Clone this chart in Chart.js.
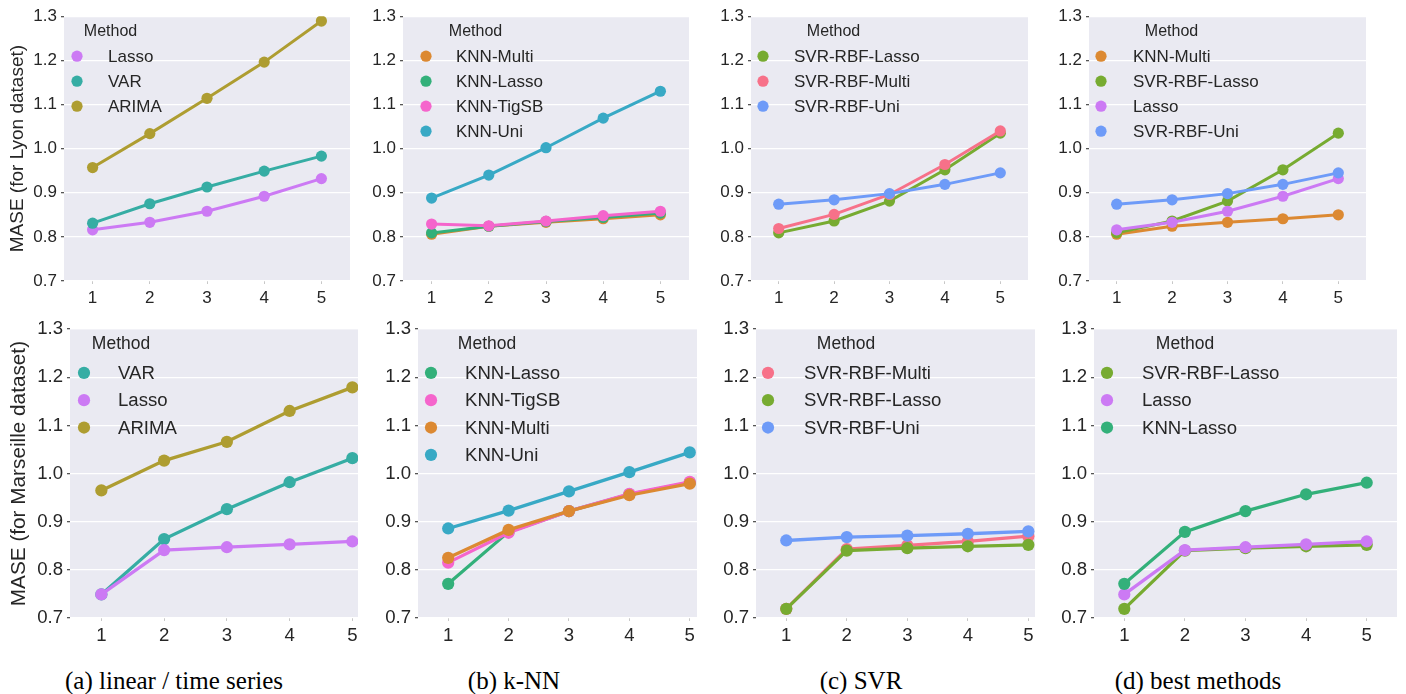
<!DOCTYPE html>
<html>
<head>
<meta charset="utf-8">
<script src="https://cdn.jsdelivr.net/npm/chart.js@4/dist/chart.umd.min.js"></script>
<style>
    body { margin: 0; background: #fff; width: 1406px; height: 694px; overflow: hidden; position: relative; }
    canvas { position: absolute; }
    .cap { position: absolute; top: 667px; width: 300px; margin-left: -150px; text-align: center;
           font-family: 'Liberation Serif', serif; font-size: 25px; line-height: 28px; color: #000; }
</style>
</head>
<body>
<div class="cap" style="left:174px">(a) linear / time series</div>
<div class="cap" style="left:514px">(b) k-NN</div>
<div class="cap" style="left:861px">(c) SVR</div>
<div class="cap" style="left:1198px">(d) best methods</div>
<script>
const steps = [1, 2, 3, 4, 5];
const yTicks = [0.7, 0.8, 0.9, 1.0, 1.1, 1.2, 1.3];

// Lyon (top row)
const lyonLasso    = [0.816, 0.833, 0.858, 0.892, 0.932];
const lyonVAR      = [0.831, 0.875, 0.913, 0.949, 0.983];
const lyonARIMA    = [0.957, 1.034, 1.114, 1.196, 1.289];
const lyonKnnMulti = [0.806, 0.824, 0.833, 0.841, 0.850];
const lyonKnnLasso = [0.809, 0.824, 0.835, 0.844, 0.854];
const lyonKnnTigSB = [0.829, 0.825, 0.836, 0.848, 0.858];
const lyonKnnUni   = [0.888, 0.940, 1.002, 1.069, 1.130];
const lyonSvrLasso = [0.809, 0.836, 0.881, 0.952, 1.035];
const lyonSvrMulti = [0.819, 0.851, 0.896, 0.964, 1.040];
const lyonSvrUni   = [0.874, 0.884, 0.898, 0.919, 0.945];

// Marseille (bottom row)
const marVAR      = [0.749, 0.864, 0.926, 0.982, 1.032];
const marLasso    = [0.749, 0.841, 0.847, 0.853, 0.859];
const marARIMA    = [0.965, 1.027, 1.066, 1.130, 1.179];
const marKnnLasso = [0.771, 0.879, 0.922, 0.957, 0.981];
const marKnnTigSB = [0.815, 0.877, 0.922, 0.958, 0.983];
const marKnnMulti = [0.825, 0.883, 0.922, 0.955, 0.979];
const marKnnUni   = [0.886, 0.923, 0.963, 1.003, 1.044];
const marSvrMulti = [0.719, 0.843, 0.851, 0.859, 0.870];
const marSvrLasso = [0.719, 0.840, 0.845, 0.849, 0.852];
const marSvrUni   = [0.861, 0.868, 0.871, 0.875, 0.880];

// husl palette, one colour per method
const colors = {
    'SVR-RBF-Multi': '#f77189', 'KNN-Multi': '#dc8932', 'ARIMA': '#ae9d31',
    'SVR-RBF-Lasso': '#77ab31', 'KNN-Lasso': '#33b07a', 'VAR': '#36ada4',
    'KNN-Uni': '#38a9c5', 'SVR-RBF-Uni': '#6e9bf8', 'Lasso': '#cc7af4', 'KNN-TigSB': '#f565cc'
};

const panels = [
    // top row
    { L: 64, R: 350, T: 14, B: 281, yw: 64, xmax: 5.5, s: 1, ytitle: 'MASE (for Lyon dataset)',
      lg: { mx: 13, tx: 44, tc: 46.5 },
      series: [['Lasso', lyonLasso], ['VAR', lyonVAR], ['ARIMA', lyonARIMA]] },
    { L: 403, R: 689, T: 14, B: 281, yw: 60, xmax: 5.5, s: 1,
      lg: { mx: 23, tx: 53, tc: 72.5 },
      series: [['KNN-Multi', lyonKnnMulti], ['KNN-Lasso', lyonKnnLasso], ['KNN-TigSB', lyonKnnTigSB], ['KNN-Uni', lyonKnnUni]] },
    { L: 751, R: 1028, T: 14, B: 281, yw: 60, xmax: 5.5, s: 1,
      lg: { mx: 12, tx: 43, tc: 82.5 },
      series: [['SVR-RBF-Lasso', lyonSvrLasso], ['SVR-RBF-Multi', lyonSvrMulti], ['SVR-RBF-Uni', lyonSvrUni]] },
    { L: 1089, R: 1366, T: 14, B: 281, yw: 60, xmax: 5.5, s: 1,
      lg: { mx: 12, tx: 44, tc: 82.5 },
      series: [['KNN-Multi', lyonKnnMulti], ['SVR-RBF-Lasso', lyonSvrLasso], ['Lasso', lyonLasso], ['SVR-RBF-Uni', lyonSvrUni]] },
    // bottom row
    { L: 70, R: 358, T: 326, B: 618, yw: 70, xmax: 5.09, s: 1.093, ytitle: 'MASE (for Marseille dataset)',
      lg: { mx: 14, tx: 48, tc: 51 },
      series: [['VAR', marVAR], ['Lasso', marLasso], ['ARIMA', marARIMA]] },
    { L: 418, R: 697, T: 326, B: 618, yw: 62, xmax: 5.12, s: 1.093,
      lg: { mx: 13, tx: 47, tc: 69 },
      series: [['KNN-Lasso', marKnnLasso], ['KNN-TigSB', marKnnTigSB], ['KNN-Multi', marKnnMulti], ['KNN-Uni', marKnnUni]] },
    { L: 756, R: 1035, T: 326, B: 618, yw: 62, xmax: 5.11, s: 1.093,
      lg: { mx: 12, tx: 48, tc: 90 },
      series: [['SVR-RBF-Multi', marSvrMulti], ['SVR-RBF-Lasso', marSvrLasso], ['SVR-RBF-Uni', marSvrUni]] },
    { L: 1094, R: 1397, T: 326, B: 618, yw: 62, xmax: 5.5, s: 1.093,
      lg: { mx: 13, tx: 48, tc: 91 },
      series: [['SVR-RBF-Lasso', marSvrLasso], ['Lasso', marLasso], ['KNN-Lasso', marKnnLasso]] }
];

const TXT = '#262626';
const FONT = "'Liberation Sans', Arial, sans-serif";
const PAD_TOP = 12, PAD_RIGHT = 9, XAXIS_H = 34;

// grey background of the plot area
const bgPlugin = {
    id: 'bg',
    beforeDraw(chart) {
        const a = chart.chartArea, ctx = chart.ctx;
        ctx.save();
        ctx.fillStyle = '#eaeaf2';
        ctx.fillRect(a.left, a.top, a.right - a.left, a.bottom - a.top);
        ctx.restore();
    }
};

// seaborn-like legend drawn inside the plot area
const legendPlugin = {
    id: 'innerLegend',
    afterDraw(chart, args, opts) {
        const a = chart.chartArea, ctx = chart.ctx, s = opts.s;
        ctx.save();
        ctx.fillStyle = TXT;
        ctx.textBaseline = 'middle';
        ctx.textAlign = 'center';
        ctx.font = (16 * s) + 'px ' + FONT;
        ctx.fillText('Method', a.left + opts.tc, a.top + 15);
        ctx.textAlign = 'left';
        ctx.font = (17 * s) + 'px ' + FONT;
        chart.data.datasets.forEach((ds, i) => {
            const y = a.top + 40 * s + i * 25 * s;
            ctx.beginPath();
            ctx.fillStyle = ds.borderColor;
            ctx.arc(a.left + opts.mx, y, 5.6 * s, 0, Math.PI * 2);
            ctx.fill();
            ctx.fillStyle = TXT;
            ctx.fillText(ds.label, a.left + opts.tx, y + 1);
        });
        ctx.restore();
    }
};

panels.forEach(p => {
    const cv = document.createElement('canvas');
    const w = p.yw + (p.R - p.L) + PAD_RIGHT;
    const h = PAD_TOP + (p.B - p.T) + XAXIS_H;
    cv.width = w; cv.height = h;
    cv.style.left = (p.L - p.yw) + 'px';
    cv.style.top = (p.T - PAD_TOP) + 'px';
    cv.style.width = w + 'px'; cv.style.height = h + 'px';
    document.body.appendChild(cv);

    const n = p.series.length;
    new Chart(cv.getContext('2d'), {
        type: 'line',
        data: {
            datasets: p.series.map(([name, vals], i) => ({
                label: name,
                data: steps.map((x, k) => ({ x: x, y: vals[k] })),
                borderColor: colors[name],
                backgroundColor: colors[name],
                pointBackgroundColor: colors[name],
                borderWidth: 3 * p.s,
                pointRadius: 5.6 * p.s,
                pointHoverRadius: 5.6 * p.s,
                pointBorderWidth: 0,
                order: n - i
            }))
        },
        options: {
            responsive: false,
            animation: false,
            events: [],
            layout: { padding: { top: PAD_TOP, right: PAD_RIGHT, left: 0, bottom: 0 } },
            plugins: {
                legend: { display: false },
                tooltip: { enabled: false },
                innerLegend: Object.assign({ s: p.s }, p.lg)
            },
            scales: {
                x: {
                    type: 'linear', min: 0.5, max: p.xmax,
                    afterBuildTicks: sc => { sc.ticks = steps.map(v => ({ value: v })); },
                    afterFit: sc => { sc.height = XAXIS_H; },
                    border: { display: false },
                    grid: { drawOnChartArea: false, drawTicks: true, tickLength: 3, tickColor: '#c8c8c8' },
                    ticks: { color: TXT, font: { family: FONT, size: 17 * p.s }, padding: 4,
                             callback: v => String(v) }
                },
                y: {
                    min: 0.7, max: 1.3,
                    afterBuildTicks: sc => { sc.ticks = yTicks.map(v => ({ value: v })); },
                    afterFit: sc => { sc.width = p.yw; },
                    border: { display: false },
                    grid: { color: '#ffffff', lineWidth: 1.3, drawTicks: true, tickLength: 3, tickColor: '#555' },
                    ticks: { color: TXT, font: { family: FONT, size: 17 * p.s }, padding: 4,
                             callback: v => v.toFixed(1) },
                    title: {
                        display: !!p.ytitle, text: p.ytitle || '', color: TXT,
                        font: { family: FONT, size: 19 * p.s }, padding: { top: 6 * p.s }
                    }
                }
            }
        },
        plugins: [bgPlugin, legendPlugin]
    });
});
</script>
</body>
</html>
